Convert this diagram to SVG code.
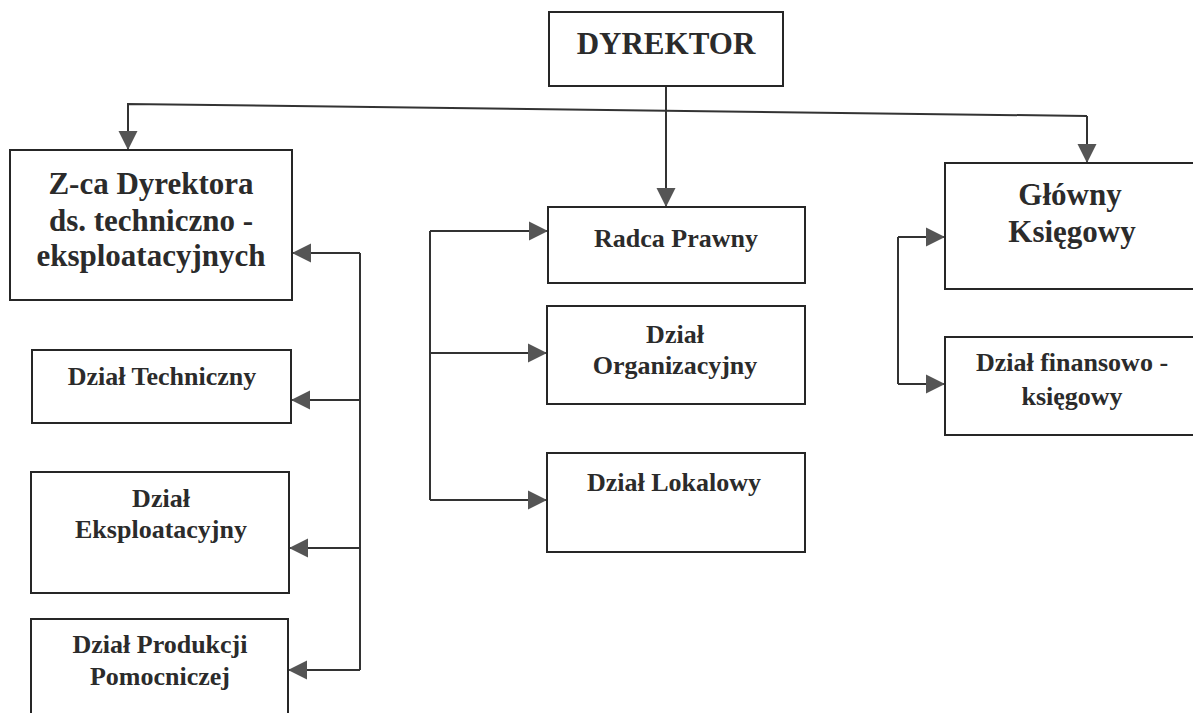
<svg xmlns="http://www.w3.org/2000/svg" width="1193" height="713" viewBox="0 0 1193 713">
<style>
.box{fill:#fff;stroke:#262626;stroke-width:2}
.con{fill:none;stroke:#333;stroke-width:2}
.arr{marker-end:url(#ah)}
text{font-family:"Liberation Serif","Times New Roman",serif;font-weight:bold;fill:#2b2b2b;text-anchor:middle}
.big{font-size:31px}
.sm{font-size:26px}
</style>
<defs>
<marker id="ah" viewBox="0 0 20 20" refX="20" refY="10" markerWidth="19" markerHeight="20" markerUnits="userSpaceOnUse" orient="auto">
<path d="M0,0 L20,10 L0,20 Z" fill="#555"/>
</marker>
</defs>
<rect width="1193" height="713" fill="#fff"/>
<g id="connectors">
<path class="con arr" d="M666,86 V207"/>
<path class="con arr" d="M1087,116 L128,104 V150"/>
<path class="con arr" d="M1087,116 V163"/>
<path class="con" d="M360,253 V670"/>
<path class="con arr" d="M360,253 H292"/>
<path class="con arr" d="M360,400 H291"/>
<path class="con arr" d="M360,548 H289"/>
<path class="con arr" d="M360,670 H288"/>
<path class="con" d="M430,231 V500"/>
<path class="con arr" d="M430,231 H548"/>
<path class="con arr" d="M430,353 H547"/>
<path class="con arr" d="M430,500 H547"/>
<path class="con" d="M898,237 V384"/>
<path class="con arr" d="M898,237 H945"/>
<path class="con arr" d="M898,384 H945"/>
</g>
<g id="dyrektor">
<rect class="box" x="549" y="12" width="234" height="74"/>
<text class="big" x="666" y="54">DYREKTOR</text>
</g>
<g id="zca">
<rect class="box" x="10" y="150" width="282" height="150"/>
<text class="big" x="151" y="194">Z-ca Dyrektora</text>
<text class="big" x="151" y="231">ds. techniczno -</text>
<text class="big" x="151" y="266">eksploatacyjnych</text>
</g>
<g id="techniczny">
<rect class="box" x="32" y="350" width="259" height="73"/>
<text class="sm" x="162" y="385">Dział Techniczny</text>
</g>
<g id="eksploatacyjny">
<rect class="box" x="31" y="472" width="258" height="121"/>
<text class="sm" x="161" y="507">Dział</text>
<text class="sm" x="161" y="538">Eksploatacyjny</text>
</g>
<g id="produkcji">
<rect class="box" x="31" y="619" width="257" height="110"/>
<text class="sm" x="160" y="653">Dział Produkcji</text>
<text class="sm" x="160" y="685">Pomocniczej</text>
</g>
<g id="radca">
<rect class="box" x="548" y="207" width="257" height="76"/>
<text class="sm" x="676" y="247">Radca Prawny</text>
</g>
<g id="organizacyjny">
<rect class="box" x="547" y="306" width="258" height="98"/>
<text class="sm" x="675" y="343">Dział</text>
<text class="sm" x="675" y="374">Organizacyjny</text>
</g>
<g id="lokalowy">
<rect class="box" x="547" y="453" width="258" height="99"/>
<text class="sm" x="674" y="491">Dział Lokalowy</text>
</g>
<g id="glowny">
<rect class="box" x="945" y="163" width="260" height="126"/>
<text class="big" x="1070" y="205">Główny</text>
<text class="big" x="1072" y="242">Księgowy</text>
</g>
<g id="finansowy">
<rect class="box" x="945" y="337" width="260" height="98"/>
<text class="sm" x="1072" y="371">Dział finansowo -</text>
<text class="sm" x="1072" y="405">księgowy</text>
</g>
</svg>
